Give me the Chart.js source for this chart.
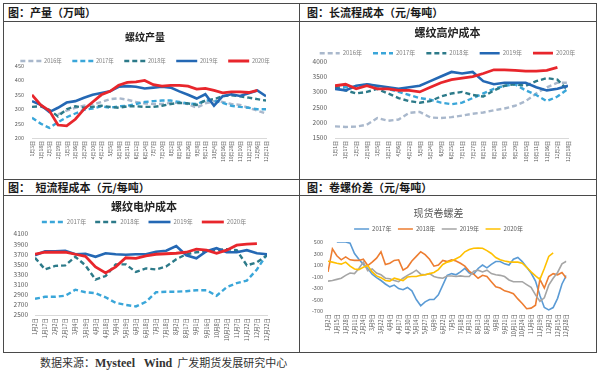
<!DOCTYPE html>
<html>
<head>
<meta charset="utf-8">
<script src="https://cdn.jsdelivr.net/npm/chart.js@4.4.0/dist/chart.umd.min.js"></script>
<style>
body{margin:0;width:600px;height:373px;background:#fff;position:relative;overflow:hidden;font-family:"Noto Sans CJK SC",sans-serif;}
.ln{position:absolute;background:#4a4a4a;}
.hd{position:absolute;font-size:11px;font-weight:700;color:#1a1a1a;line-height:14px;white-space:pre;}
canvas{position:absolute;}
.src{position:absolute;left:40px;top:354px;font-size:11px;color:#333;white-space:pre;line-height:16px;}
.src b{font-family:"Liberation Serif",serif;font-size:12px;}
</style>
</head>
<body>
<div class="ln" style="left:3px;top:3px;width:594px;height:1px"></div>
<div class="ln" style="left:3px;top:21px;width:594px;height:1px"></div>
<div class="ln" style="left:3px;top:179px;width:594px;height:1px"></div>
<div class="ln" style="left:3px;top:195px;width:594px;height:1px"></div>
<div class="ln" style="left:3px;top:352px;width:594px;height:1px"></div>
<div class="ln" style="left:3px;top:3px;width:1px;height:350px"></div>
<div class="ln" style="left:299px;top:3px;width:1px;height:350px"></div>
<div class="ln" style="left:596px;top:3px;width:1px;height:350px"></div>

<div class="hd" style="left:8px;top:5px">图：产量（万吨）</div>
<div class="hd" style="left:307px;top:5px">图：长流程成本（元/每吨）</div>
<div class="hd" style="left:8px;top:180px">图：　短流程成本（元/每吨）</div>
<div class="hd" style="left:307px;top:180px">图：卷螺价差（元/每吨）</div>

<canvas id="c1" width="282" height="156" style="left:4px;top:22px"></canvas>
<canvas id="c2" width="293" height="156" style="left:301px;top:22px"></canvas>
<canvas id="c3" width="280" height="154" style="left:4px;top:197px"></canvas>
<canvas id="c4" width="275" height="154" style="left:301px;top:197px"></canvas>

<div class="src">数据来源：<b>Mysteel   Wind</b>  广发期货发展研究中心</div>

<script>
// 螺纹产量 (万吨), one value per tick
var prodTicks = ['1月3日','1月18日','2月3日','2月19日','3月3日','3月16日','3月29日','4月10日','4月22日','5月5日','5月18日','5月31日','6月12日','6月24日','7月7日','7月20日','8月2日','8月14日','8月26日','9月8日','9月21日','10月4日','10月16日','10月28日','11月10日','11月23日','12月6日','12月21日'];
var prod2016 = [null,null,null,282,295,305,312,316,325,335,338,333,325,320,318,318,322,322,318,305,320,328,325,318,315,305,295,285];
var prod2017 = [270,250,235,255,272,285,298,302,310,305,310,312,318,325,328,330,330,325,320,318,330,330,322,312,308,305,300,300];
var prod2018 = [308,310,298,275,300,310,305,308,312,308,305,310,310,308,308,312,318,322,320,315,330,335,345,348,345,340,335,330];
var prod2019 = [328,315,290,305,323,328,340,350,356,362,378,380,378,372,375,378,375,362,350,337,352,312,345,352,346,355,365,345];
var prod2020 = [350,315,295,245,242,265,300,325,350,362,383,393,395,400,385,380,383,383,380,370,372,365,357,360,360,358,365,null];

// 螺纹高炉成本
var bfTicks = ['1月1日','1月17日','2月2日','2月18日','3月5日','3月21日','4月6日','4月22日','5月8日','5月24日','6月9日','6月25日','7月11日','7月27日','8月12日','8月28日','9月13日','9月29日','10月15日','10月31日','11月16日','12月2日','12月18日'];
var bf2016 = [1880,1860,1870,1930,2150,2060,2100,2320,2350,2170,2150,2180,2230,2290,2330,2400,2460,2550,2700,2950,3150,3300,3300];
var bf2017 = [3150,3150,3180,3250,3180,3100,3000,2900,2800,2750,2650,2600,2650,2800,2950,3100,3200,3250,3050,2900,2700,2850,3100];
var bf2018 = [3150,3050,2950,3000,3100,2950,2800,2700,2650,2700,2850,2950,3000,2900,2850,3050,3200,3250,3200,3350,3450,3400,3050];
var bf2019 = [3100,3050,3200,3250,3200,3150,3100,3150,3200,3350,3500,3650,3600,3650,3350,3250,3300,3300,3300,3150,3050,3100,3200];
var bf2020 = [3200,3250,3100,3200,3100,3100,3050,3050,3000,3150,3300,3400,3450,3500,3600,3720,3720,3700,3680,3680,3700,3800,null];

// 螺纹电炉成本
var eafTicks = ['1月2日','1月17日','2月2日','2月17日','3月4日','3月19日','4月3日','4月18日','5月4日','5月19日','6月3日','6月18日','7月3日','7月18日','8月2日','8月17日','9月1日','9月16日','10月8日','10月23日','11月7日','11月22日','12月7日','12月22日'];
var eaf2017 = [2820,2860,2860,2880,3000,2950,2930,2850,2740,2700,2670,2760,2950,2960,2960,2970,2990,2990,2880,3050,3130,3180,3400,3700];
var eaf2018 = [3630,3400,3470,3480,3650,3480,3200,3270,3500,3500,3350,3420,3400,3460,3600,3700,3740,3760,3780,3800,3780,3480,3540,3680];
var eaf2019 = [3680,3760,3760,3770,3700,3710,3650,3720,3700,3690,3700,3700,3750,3770,3860,3680,3620,3760,3820,3740,3740,3780,3720,3700];
var eaf2020 = [3700,3740,3740,3740,3700,3660,3450,3330,3450,3630,3620,3670,3700,3710,3720,3740,3800,3780,3720,3780,3880,3900,3910,null];

// 现货卷螺差, two values per tick
var spreadTicks = ['1月2日','1月15日','1月28日','2月11日','2月24日','3月9日','3月22日','4月4日','4月17日','4月30日','5月14日','5月27日','6月9日','6月22日','7月5日','7月18日','7月31日','8月13日','8月26日','9月8日','9月21日','10月11日','10月24日','11月6日','11月19日','12月2日','12月15日','12月28日'];
var spread2017 = [null,null,500,500,500,480,300,200,110,40,-60,-120,-170,-230,-280,-250,-310,-330,-290,-350,-500,-610,-540,-500,-500,-420,-250,-80,-50,-70,-20,40,-40,-60,40,100,50,110,160,160,120,100,200,230,160,60,-40,-180,-430,-640,-680,-640,-480,-230,-80];
var spread2018 = [-20,380,260,190,240,190,180,180,200,90,150,220,330,110,130,180,190,10,60,170,250,330,280,200,80,100,180,160,190,170,130,80,-10,-60,-130,-80,-100,-190,-280,-300,-350,-370,-400,-490,-570,-660,-650,-600,-150,-300,-100,-50,-70,-30,-130];
var spread2019 = [-180,-170,-150,-130,-80,-40,-50,40,150,0,30,-40,-70,-130,-140,-170,-190,-130,-80,-40,10,-60,-70,-50,-100,-120,-130,-90,-90,-100,-90,-100,-100,-10,10,-20,10,-50,-70,-80,-100,-160,-190,-190,-190,-240,-290,-420,-530,-470,-250,-130,-30,120,165];
var spread2020 = [165,150,130,115,150,80,30,20,60,90,-20,-90,-120,-170,-180,-130,-150,-170,-110,-100,-100,-80,-70,-50,-30,20,110,150,170,210,250,330,370,390,395,390,350,300,230,190,170,155,150,150,130,60,-20,-90,-150,40,250,310,null,null,null];

var c16 = '#a9b8cc', c17 = '#3aa6d9', c18 = '#2c7a89', c19 = '#2468b4', c20 = '#e8262c';

Chart.defaults.font.family = '"Noto Sans CJK SC", sans-serif';

function line(label, values, color, width, dash, step, order) {
    return {
        label: label,
        data: values.map(function (v, i) { return {x: i / step, y: v}; }),
        borderColor: color,
        backgroundColor: color,
        borderWidth: width,
        borderDash: dash,
        pointRadius: 0,
        tension: 0,
        order: order
    };
}

function xAxis(labels, size, height) {
    return {
        type: 'linear', min: 0, max: labels.length - 1,
        grid: {display: false, drawTicks: false},
        border: {display: true, color: '#d9d9d9'},
        afterBuildTicks: function (s) { s.ticks = labels.map(function (l, i) { return {value: i}; }); },
        afterFit: function (s) { s.height = height; },
        ticks: {
            autoSkip: false, minRotation: 90, maxRotation: 90, padding: 3,
            color: '#595959', font: {size: size},
            callback: function (v) { return labels[v]; }
        }
    };
}

function yAxis(min, max, step, width, size, pad) {
    return {
        min: min, max: max,
        grid: {display: false, drawTicks: false},
        border: {display: false},
        afterFit: function (s) { s.width = width; },
        ticks: {stepSize: step, padding: pad, autoSkip: false, color: '#595959', font: {size: size},
            callback: function (v) { return String(v); }}
    };
}

// empty right-hand axis, only to leave room right of the plot
function spacer(width) {
    return {
        position: 'right', display: true,
        grid: {display: false, drawTicks: false},
        border: {display: false},
        ticks: {display: false},
        afterFit: function (s) { s.width = width; }
    };
}

function legend(size, symbol, pad, maxH, color) {
    return {
        maxHeight: maxH,
        labels: {
            usePointStyle: true, pointStyle: 'line', pointStyleWidth: symbol,
            padding: pad, color: color, font: {size: size},
            generateLabels: function (chart) {
                return chart.data.datasets.map(function (d, i) {
                    return {text: d.label, strokeStyle: d.borderColor, fillStyle: d.borderColor,
                        lineWidth: d.borderWidth, lineDash: d.borderDash || [], pointStyle: 'line',
                        datasetIndex: i, fontColor: color};
                });
            }
        }
    };
}

function title(text, size, weight, color, top, bottom) {
    return {display: true, text: text, color: color, font: {size: size, weight: weight}, padding: {top: top, bottom: bottom}};
}

var d1 = [5, 3];

new Chart(document.getElementById('c1').getContext('2d'), {
    type: 'line',
    data: {datasets: [
        line('2016年', prod2016, c16, 2.4, d1, 1, 4),
        line('2017年', prod2017, c17, 2.4, d1, 1, 3),
        line('2018年', prod2018, c18, 2.4, d1, 1, 2),
        line('2019年', prod2019, c19, 2.6, [], 1, 1),
        line('2020年', prod2020, c20, 2.8, [], 1, 0)
    ]},
    options: {
        responsive: false, animation: false,
        layout: {padding: 0},
        plugins: {
            title: title('螺纹产量', 10, 'bold', '#222', 9, 4.75),
            legend: legend(5.5, 21, 10.5, 18.25, '#7f7f7f'),
            tooltip: {enabled: false}
        },
        scales: {x: xAxis(prodTicks, 5, 40), y: yAxis(200, 450, 50, 28, 5.5, 8), yr: spacer(20)}
    }
});

new Chart(document.getElementById('c2').getContext('2d'), {
    type: 'line',
    data: {datasets: [
        line('2016年', bf2016, c16, 2.4, d1, 1, 4),
        line('2017年', bf2017, c17, 2.4, d1, 1, 3),
        line('2018年', bf2018, c18, 2.4, d1, 1, 2),
        line('2019年', bf2019, c19, 2.6, [], 1, 1),
        line('2020年', bf2020, c20, 2.8, [], 1, 0)
    ]},
    options: {
        responsive: false, animation: false,
        layout: {padding: 0},
        plugins: {
            title: title('螺纹高炉成本', 11, 'bold', '#222', 4, 0),
            legend: legend(6, 20, 11, 22, '#7f7f7f'),
            tooltip: {enabled: false}
        },
        scales: {x: xAxis(bfTicks, 5, 40), y: yAxis(1500, 4000, 500, 34, 6.5, 8), yr: spacer(26)}
    }
});

new Chart(document.getElementById('c3').getContext('2d'), {
    type: 'line',
    data: {datasets: [
        line('2017年', eaf2017, c17, 2.4, d1, 1, 3),
        line('2018年', eaf2018, c18, 2.4, d1, 1, 2),
        line('2019年', eaf2019, c19, 2.6, [], 1, 1),
        line('2020年', eaf2020, c20, 2.8, [], 1, 0)
    ]},
    options: {
        responsive: false, animation: false,
        layout: {padding: 0},
        plugins: {
            title: title('螺纹电炉成本', 11, 'bold', '#222', 3.4, -3.6),
            legend: legend(6, 22, 9, 24, '#7f7f7f'),
            tooltip: {enabled: false}
        },
        scales: {x: xAxis(eafTicks, 5.5, 36), y: yAxis(2500, 4100, 200, 31, 6.5, 7), yr: spacer(17)}
    }
});

var xs = xAxis(spreadTicks, 5.5, 40);
xs.border = {display: false};
var ys = yAxis(-700, 500, 200, 27, 5.5, 5);
ys.grid = {display: true, drawTicks: false, lineWidth: 1,
    color: function (c) { return c.tick && c.tick.value === 0 ? '#d9d9d9' : 'rgba(0,0,0,0)'; }};

new Chart(document.getElementById('c4').getContext('2d'), {
    type: 'line',
    data: {datasets: [
        line('2017年', spread2017, '#5b9bd5', 1.6, [], 2, 3),
        line('2018年', spread2018, '#ed7d31', 1.6, [], 2, 2),
        line('2019年', spread2019, '#a5a5a5', 1.6, [], 2, 1),
        line('2020年', spread2020, '#ffc000', 1.6, [], 2, 0)
    ]},
    options: {
        responsive: false, animation: false,
        layout: {padding: 0},
        plugins: {
            title: title('现货卷螺差', 10, 'normal', '#595959', 10, 0.5),
            legend: legend(6, 15, 6.5, 22.5, '#595959'),
            tooltip: {enabled: false}
        },
        scales: {x: xs, y: ys, yr: spacer(9)}
    }
});
</script>
</body>
</html>
